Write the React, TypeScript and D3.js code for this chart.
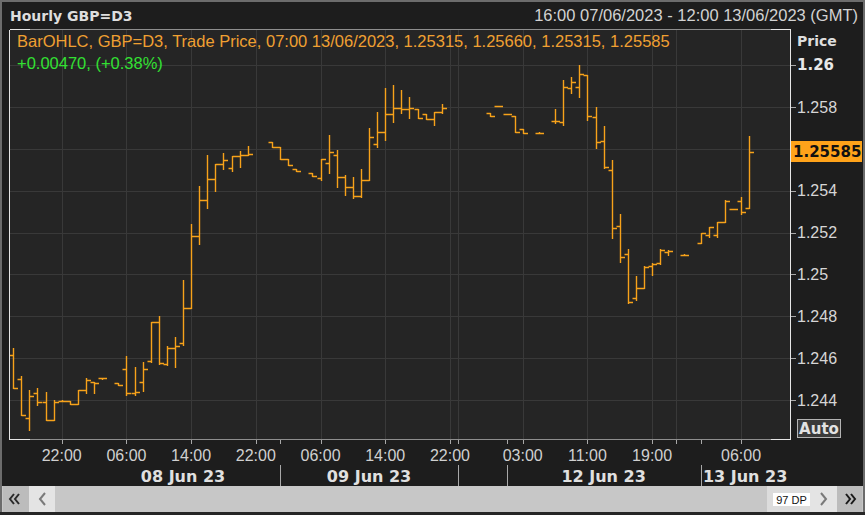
import * as d3 from 'd3';

// hourly OHLC slots, 0 = 16:00 07/06/2023 ... 91 = 07:00 13/06/2023 (slots 92-96 are empty)
const slotCount = 97;

const opens = [
  1.24615, 1.24499, 1.24313, 1.24432, 1.24392, 1.24305, 1.24397, 1.24397, 1.24381, 1.24448,
  1.24488, 1.24504, null, 1.24483, 1.24547, 1.24432, 1.24488, 1.24587, 1.24774, 1.24571,
  1.2465, 1.24671, 1.24841, 1.25183, 1.25355, 1.25456, 1.25527, 1.25507, 1.25565, 1.2557,
  null, null, 1.25634, 1.25607, 1.2555, 1.25501, null, 1.25483, 1.25459, 1.2553,
  1.2557, 1.25467, 1.25419, 1.25374, 1.25451, 1.25622, 1.25682, 1.25766, 1.25793, 1.25788,
  1.25788, 1.25766, 1.2574, 1.25777, null, null, null, null, null, 1.25772,
  1.25804, 1.25766, 1.25756, 1.25693, null, 1.25677, null, 1.25733, 1.25729, 1.25889,
  1.25893, 1.25952, 1.25753, 1.25637, 1.25499, 1.25233, 1.25096, 1.24886, 1.24934, 1.25042,
  1.25053, 1.25109, null, 1.25093, null, 1.25148, 1.25188, 1.25188, 1.25249, 1.25312,
  1.25352, 1.25315,
];

const highs = [
  1.2465, 1.24515, 1.24448, 1.24456, 1.2444, 1.244, 1.244, 1.24397, 1.24448, 1.24507,
  1.24488, 1.24504, null, 1.24483, 1.2461, 1.24559, 1.24583, 1.24774, 1.24802, 1.24658,
  1.247, 1.24973, 1.25241, 1.25422, 1.2557, 1.25527, 1.25578, 1.25565, 1.25589, 1.25613,
  null, null, 1.25634, 1.25607, 1.2555, 1.25501, null, 1.25483, 1.2555, 1.25666,
  1.25594, 1.25475, 1.25467, 1.25502, 1.25698, 1.25777, 1.25889, 1.25904, 1.25881, 1.25849,
  1.25788, 1.25766, 1.25777, 1.25814, null, null, null, null, null, 1.25772,
  1.25806, 1.25768, 1.25756, 1.25693, null, 1.25679, null, 1.2579, 1.25928, 1.25944,
  1.26, 1.25952, 1.25801, 1.2571, 1.25546, 1.25287, 1.25121, 1.24994, 1.25042, 1.25053,
  1.25121, 1.25116, null, 1.25095, null, 1.25196, 1.25228, 1.25249, 1.25355, 1.25312,
  1.25371, 1.2566,
];

const lows = [
  1.24456, 1.24329, 1.24257, 1.24376, 1.24305, 1.24305, 1.24395, 1.24381, 1.24381, 1.24432,
  1.24432, 1.245, null, 1.2447, 1.24424, 1.24424, 1.24445, 1.24583, 1.24572, 1.24567,
  1.24559, 1.24663, 1.24838, 1.25145, 1.25316, 1.254, 1.25502, 1.25495, 1.25511, 1.2557,
  null, null, 1.25607, 1.2555, 1.25522, 1.25494, null, 1.2547, 1.25451, 1.25483,
  1.25419, 1.25379, 1.25363, 1.25371, 1.25451, 1.2561, 1.25642, 1.25729, 1.25769, 1.25745,
  1.25745, 1.2574, 1.25713, 1.2577, null, null, null, null, null, 1.25756,
  1.25802, 1.25764, 1.25682, 1.25677, null, 1.25675, null, 1.25722, 1.25714, 1.25865,
  1.25849, 1.25737, 1.25605, 1.25507, 1.25172, 1.25061, 1.24862, 1.24878, 1.24934, 1.24997,
  1.25048, 1.25093, null, 1.25091, null, 1.25148, 1.2518, 1.2518, 1.25249, 1.25312,
  1.25287, 1.25315,
];

const closes = [
  1.24456, 1.24329, 1.24419, 1.24392, 1.24305, 1.24392, 1.24397, 1.24381, 1.24448, 1.24496,
  1.2448, 1.24504, null, 1.2447, 1.24432, 1.2444, 1.24547, 1.24774, 1.24579, 1.2465,
  1.24658, 1.24841, 1.25183, 1.25355, 1.25456, 1.25527, 1.25546, 1.25565, 1.2557, 1.25575,
  null, null, 1.25607, 1.2555, 1.25522, 1.25494, null, 1.2547, 1.2555, 1.25586,
  1.25467, 1.25419, 1.25374, 1.25451, 1.25655, 1.25682, 1.25766, 1.25793, 1.25788, 1.25793,
  1.25745, 1.2574, 1.25774, 1.25793, null, null, null, null, null, 1.25756,
  1.25804, 1.25766, 1.25682, 1.25677, null, 1.25677, null, 1.25733, 1.25897, 1.25917,
  1.25955, 1.25757, 1.25631, 1.25515, 1.2522, 1.25085, 1.24867, 1.24934, 1.25037, 1.25048,
  1.25116, 1.25113, null, 1.25093, null, 1.25196, 1.25228, 1.25249, 1.25352, 1.25312,
  1.253, 1.25585,
];

const lastPrice = 1.25585;
const priceTicks = [1.244, 1.246, 1.248, 1.25, 1.252, 1.254, 1.256, 1.258, 1.26];

const tickSlots = [6, 14, 22, 30, 38, 46, 54, 63, 71, 79, 90];
const tickLabels = ['22:00', '06:00', '14:00', '22:00', '06:00', '14:00', '22:00', '03:00', '11:00', '19:00', '06:00'];
const extraGridSlots = [55, 82];
const daySeparatorSlots = [33, 55, 61, 85];
const dayLabels = ['08 Jun 23', '09 Jun 23', '12 Jun 23', '13 Jun 23'];
const dayStartSlots = [9, 33, 61, 85];
const dayEndSlots = [33, 55, 85, 96];

const legendText = 'BarOHLC, GBP=D3, Trade Price, 07:00 13/06/2023, 1.25315, 1.25660, 1.25315, 1.25585';
const changeText = '+0.00470, (+0.38%)';

const W = 865;
const H = 515;
const SANS = "'Liberation Sans', Arial, sans-serif";
const BOLD = "'DejaVu Sans', Verdana, sans-serif";
const ORANGE = '#f7a21a';

export default function App() {
  const x = d3.scaleLinear().domain([0, slotCount - 1]).range([13.2, 789.6]);
  const y = d3.scaleLinear().domain([1.244, 1.26]).range([400, 65]);
  const px = (i: number) => Math.round(x(i)) + 0.5;
  const py = (v: number) => Math.round(y(v)) + 0.5;
  const fmt = d3.format('.4~f');

  const frame = { l: 9.5, r: 790.5, t: 29.5, b: 439.5 };

  // OHLC bars as one path
  const bars = d3.path();
  opens.forEach((o, i) => {
    if (o == null) return;
    const cx = px(i);
    const top = Math.round(y(highs[i] as number));
    const bot = Math.max(Math.round(y(lows[i] as number)) + 1, top + 1);
    bars.moveTo(cx, top);
    bars.lineTo(cx, bot);
    const oy = py(o);
    bars.moveTo(cx - 4, oy);
    bars.lineTo(cx, oy);
    const cy = py(closes[i] as number);
    bars.moveTo(cx, cy);
    bars.lineTo(cx + 4.5, cy);
  });

  const gridSlots = [...tickSlots, ...extraGridSlots];
  const tickMarkSlots = [...gridSlots, ...daySeparatorSlots];
  // the last-price flag covers the label of the nearest tick
  const labelTicks = priceTicks.filter((v) => Math.abs(y(v) - y(lastPrice)) > 12);

  return (
    <svg width={W} height={H} style={{ position: 'absolute', left: 0, top: 0, display: 'block' }}>
      <rect x={0} y={0} width={W} height={H} fill="#1d1d1d" />
      <rect x={1} y={1} width={W - 2} height={H - 2} fill="none" stroke="#6c6c6c" strokeWidth={2} />

      {/* header */}
      <text x={10} y={21} fontFamily={BOLD} fontWeight="bold" fontSize={14} fill="#dedede">Hourly GBP=D3</text>
      <text x={858} y={21} textAnchor="end" fontFamily={SANS} fontSize={16.5} fill="#d2d2d2">
        16:00 07/06/2023 - 12:00 13/06/2023 (GMT)
      </text>

      {/* plot area */}
      <rect x={frame.l} y={frame.t} width={frame.r - frame.l} height={frame.b - frame.t} fill="#252525" />
      <g stroke="#393939" strokeWidth={1} shapeRendering="crispEdges">
        {priceTicks.map((v) => (
          <line key={v} x1={frame.l} x2={frame.r} y1={py(v)} y2={py(v)} />
        ))}
        {gridSlots.map((s) => (
          <line key={s} x1={px(s)} x2={px(s)} y1={frame.t} y2={frame.b} />
        ))}
      </g>

      <path d={bars.toString()} stroke={ORANGE} strokeWidth={1.4} fill="none" />

      {/* legend */}
      <text x={17} y={47} fontFamily={SANS} fontSize={16.5} fill="#f0a032">{legendText}</text>
      <text x={17} y={69} fontFamily={SANS} fontSize={16.5} fill="#33e033">{changeText}</text>

      {/* frame */}
      <g shapeRendering="crispEdges" fill="none">
        <line x1={frame.l} x2={frame.r} y1={frame.t} y2={frame.t} stroke="#8e8e8e" />
        <line x1={frame.l} x2={frame.r} y1={frame.b} y2={frame.b} stroke="#8e8e8e" />
        <line x1={frame.l} x2={frame.l} y1={frame.t} y2={frame.b} stroke="#e6e6e6" />
        <line x1={frame.r} x2={frame.r} y1={frame.t} y2={frame.b} stroke="#e6e6e6" />
        <path
          d={`M${frame.l},${frame.t}H${frame.l + 20}M${frame.r - 20},${frame.t}H${frame.r}M${frame.l},${frame.b}H${frame.l + 20}M${frame.r - 20},${frame.b}H${frame.r}`}
          stroke="#e6e6e6"
        />
      </g>

      {/* y axis */}
      <text x={797} y={46} fontFamily={BOLD} fontWeight="bold" fontSize={14} fill="#dedede">Price</text>
      <g shapeRendering="crispEdges" stroke="#a8a8a8">
        {priceTicks.map((v) => (
          <line key={v} x1={frame.r} x2={frame.r + 5} y1={py(v)} y2={py(v)} />
        ))}
      </g>
      {labelTicks.map((v) =>
        v === 1.26 ? (
          <text key={v} x={797} y={y(v)} dy="0.36em" fontFamily={BOLD} fontWeight="bold" fontSize={15} fill="#e8e8e8">
            {fmt(v)}
          </text>
        ) : (
          <text key={v} x={797} y={y(v)} dy="0.36em" fontFamily={SANS} fontSize={16} fill="#d6d6d6">
            {fmt(v)}
          </text>
        )
      )}
      <rect x={791} y={Math.round(y(lastPrice)) - 11} width={71} height={21} fill="#ffa31a" />
      <text x={793} y={y(lastPrice)} dy="0.36em" fontFamily={BOLD} fontWeight="bold" fontSize={15} fill="#111">
        {lastPrice.toFixed(5)}
      </text>
      <rect x={797.5} y={419.5} width={43} height={18} fill="#3a3a3a" stroke="#b4b4b4" shapeRendering="crispEdges" />
      <text x={819} y={434} textAnchor="middle" fontFamily={BOLD} fontWeight="bold" fontSize={15} fill="#e2e2e2">Auto</text>

      {/* x axis */}
      <g shapeRendering="crispEdges" stroke="#a8a8a8">
        {tickMarkSlots.map((s, k) => (
          <line key={k} x1={px(s)} x2={px(s)} y1={frame.b} y2={frame.b + 4} />
        ))}
        {daySeparatorSlots.map((s) => (
          <line key={s} x1={px(s)} x2={px(s)} y1={465} y2={487} />
        ))}
      </g>
      {tickSlots.map((s, k) => (
        <text key={k} x={x(s)} y={461} textAnchor="middle" fontFamily={SANS} fontSize={16} fill="#d0d0d0">
          {tickLabels[k]}
        </text>
      ))}
      {dayLabels.map((d, k) => (
        <text
          key={d}
          x={(x(dayStartSlots[k]) + x(dayEndSlots[k])) / 2}
          y={482}
          textAnchor="middle"
          fontFamily={BOLD}
          fontWeight="bold"
          fontSize={16}
          fill="#e0e0e0"
        >
          {d}
        </text>
      ))}

      {/* scroll bar */}
      <rect x={2} y={486} width={861} height={26} fill="#c7c7c7" />
      <rect x={3} y={486} width={26} height={26} fill="#bcbcbc" />
      <rect x={29} y={486} width={26} height={26} fill="#e4e4e4" />
      <rect x={767} y={486} width={43} height={26} fill="#dcdcdc" />
      <rect x={810} y={486} width={27} height={26} fill="#e4e4e4" />
      <rect x={837} y={486} width={25} height={26} fill="#bcbcbc" />
      <rect x={773} y={493} width={37} height={13} fill="#ffffff" />
      <text x={791.5} y={503.5} textAnchor="middle" fontFamily={SANS} fontSize={11} fill="#111">97 DP</text>
      <g fill="none" strokeWidth={2}>
        <path d="M14,494L10,499L14,504M19,494L15,499L19,504" stroke="#2a2a2a" />
        <path d="M45,493L40,499L45,505" stroke="#7a7a7a" />
        <path d="M821,493L826,499L821,505" stroke="#7a7a7a" />
        <path d="M846,494L850,499L846,504M851,494L855,499L851,504" stroke="#1a1a1a" />
      </g>
      <rect x={0} y={512} width={W} height={3} fill="#262626" />
    </svg>
  );
}
